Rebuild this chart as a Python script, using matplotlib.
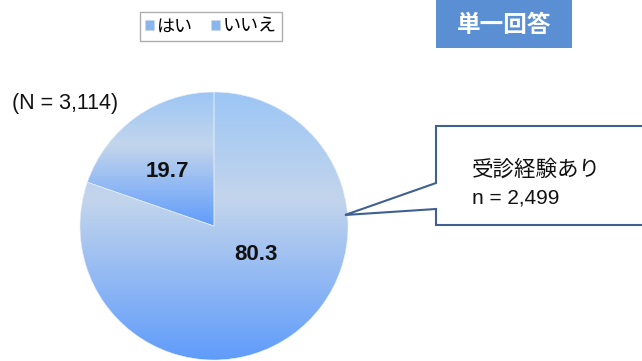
import numpy as np
import matplotlib
matplotlib.use("Agg")
import matplotlib.pyplot as plt
from matplotlib.colors import LinearSegmentedColormap
from matplotlib.patches import Polygon, Rectangle

plt.rcParams['font.family'] = ['Noto Sans CJK JP', 'DejaVu Sans']

# data
categories = ['はい', 'いいえ']
values = [80.3, 19.7]
total_label = '(N = 3,114)'
callout_title = '受診経験あり'
callout_n = 'n = 2,499'
badge_text = '単一回答'

W, H = 642, 361
fig = plt.figure(figsize=(W / 100, H / 100), dpi=100)
fig.patch.set_facecolor('white')

# pie axes: square in pixels, centered at (214, 226) with radius 134 px
cx, cy, r = 214, 226, 134
ax = fig.add_axes([(cx - r) / W, (H - cy - r) / H, 2 * r / W, 2 * r / H])
wedges, _ = ax.pie(values, startangle=90, counterclock=False, radius=1,
                   colors=['#8cb9f1', '#8cb9f1'],
                   wedgeprops=dict(edgecolor='#e8f0fa', linewidth=0.4))
ax.set_xlim(-1, 1)
ax.set_ylim(-1, 1)
ax.set_aspect('auto')
ax.axis('off')

# vertical gradient per wedge (light top, pale middle, saturated bottom)
grad_cmap = LinearSegmentedColormap.from_list(
    'blue_grad', [(0.0, '#9cc6f5'), (0.40, '#c3d5ec'), (1.0, '#5f9cfb')])
for w in wedges:
    bb = w.get_path().transformed(w.get_patch_transform()).get_extents()
    g = np.linspace(0, 1, 256).reshape(-1, 1)
    im = ax.imshow(g, cmap=grad_cmap, aspect='auto',
                   extent=[bb.x0, bb.x1, bb.y0, bb.y1], origin='upper',
                   interpolation='bilinear', zorder=1.5)
    im.set_clip_path(w)
    w.set_facecolor('none')
    w.set_zorder(2)

# value labels
label_pos = [(0.31, -0.21), (-0.35, 0.41)]
for v, (lx, ly) in zip(values, label_pos):
    ax.text(lx, ly, f'{v:.1f}', ha='center', va='center', fontsize=16,
            fontweight='bold', family=['Liberation Sans', 'DejaVu Sans'],
            color='#111111', zorder=3)

# overlay axes in pixel coordinates for annotations
ov = fig.add_axes([0, 0, 1, 1])
ov.set_xlim(0, W)
ov.set_ylim(H, 0)
ov.axis('off')

ov.text(12, 104, total_label, ha='left', va='center', fontsize=15.5,
        family=['Liberation Sans', 'DejaVu Sans'], color='#111111')

# callout box with pointer
callout = Polygon([(436, 126), (660, 126), (660, 225), (436, 225), (436, 209),
                   (345, 215), (436, 183)], closed=True, facecolor='white',
                  edgecolor='#3f6090', linewidth=1.5, clip_on=False)
ov.add_patch(callout)
ov.text(472, 170, callout_title, ha='left', va='center', fontsize=15.5,
        color='#111111')
ov.text(472, 198, callout_n, ha='left', va='center', fontsize=15,
        family=['Liberation Sans', 'DejaVu Sans'], color='#111111')

# badge
ov.add_patch(Rectangle((436, 0), 136, 48, facecolor='#5a8fd3',
                       edgecolor='none'))
ov.text(504, 25, badge_text, ha='center', va='center', fontsize=17,
        fontweight='bold', color='white')

# legend
leg = fig.legend(wedges, categories, loc='center', ncol=2,
                 bbox_to_anchor=(211 / W, 1 - 26.5 / H),
                 frameon=True, fancybox=False, fontsize=13,
                 handlelength=0.5, handleheight=0.5, handletextpad=0.15,
                 columnspacing=1.0, borderpad=0.3, borderaxespad=0)
leg.get_frame().set_edgecolor('#999999')
leg.get_frame().set_linewidth(1.0)
for h in leg.legend_handles:
    h.set_facecolor('#8ab6ee')
    h.set_edgecolor('#c8d8ee')
    h.set_linewidth(0.5)

fig.savefig('out.png', dpi=100, facecolor='white')
